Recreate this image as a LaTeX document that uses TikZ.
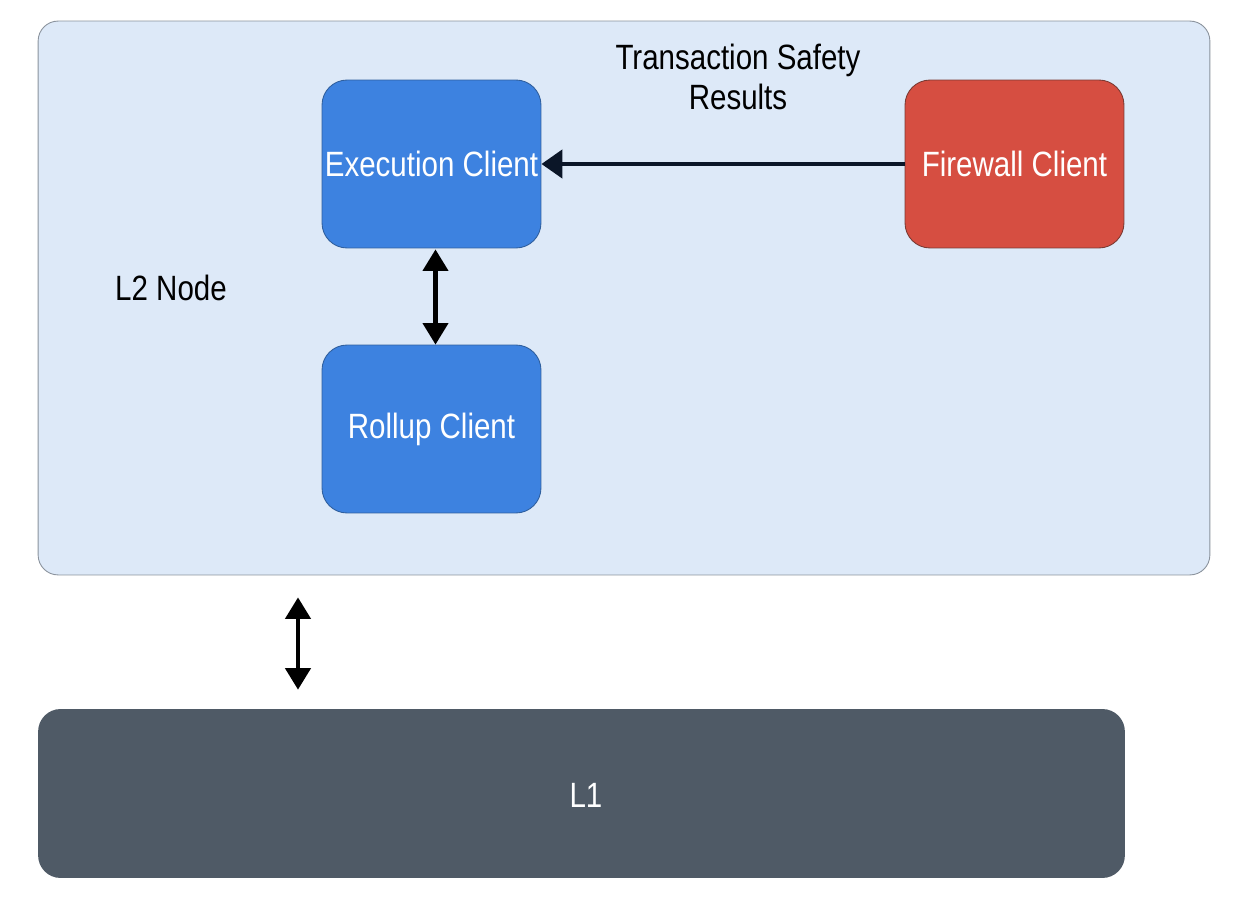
\documentclass[tikz,border=0pt]{standalone}
\usepackage{fontspec}
\setmainfont[FakeStretch=0.84]{Liberation Sans}
\usepackage{tikz}
\usetikzlibrary{arrows.meta, positioning, calc}
\definecolor{nodebg}{HTML}{DDE9F8}
\definecolor{nodeline}{HTML}{8A929C}
\definecolor{clientblue}{HTML}{3D82E0}
\definecolor{clientline}{HTML}{2F5F9E}
\definecolor{firered}{HTML}{D64E41}
\definecolor{fireline}{HTML}{7A3A33}
\definecolor{layerone}{HTML}{4F5A66}
\definecolor{navy}{HTML}{0B1628}

\begin{document}
\begin{tikzpicture}[
    x=0.02cm, y=-0.02cm,
    font=\fontsize{20}{23}\selectfont,
    l2box/.style={rectangle, draw=nodeline, fill=nodebg, rounded corners=0.4cm, line width=0.5pt, minimum width=23.44cm, minimum height=11.08cm},
    client/.style={rectangle, draw=clientline, fill=clientblue, rounded corners=0.5cm, line width=0.5pt, minimum width=4.38cm, minimum height=3.36cm, text=white, align=center, inner sep=0pt},
    l1box/.style={rectangle, fill=layerone, rounded corners=0.45cm, minimum width=21.74cm, minimum height=3.38cm, text=white},
    arrow/.style={-{Triangle[length=0.42cm, width=0.56cm]}, line width=2.6pt, navy},
    dblarrow/.style={{Triangle[length=0.43cm, width=0.5cm]}-{Triangle[length=0.43cm, width=0.5cm]}, line width=2.4pt, black}
]
    \useasboundingbox (0,0) rectangle (1242,902);

    % L2 node
    \node[l2box] (l2) at (624,298) {};
    \node (l2label) at (171,288) {L2 Node};

    % Clients
    \node[client] (exec) at (431.5,164) {Execution Client};
    \node[client] (rollup) at (431.5,429) {Rollup Client};
    \node[client, fill=firered, draw=fireline] (firewall) at (1014.5,164) {Firewall Client};

    % L1
    \node[l1box] (l1) at (581.5,793.5) {};
    \node[text=white] (l1label) at (586,795) {L1};

    % Label over the result arrow
    \node[align=center] (results) at (738,77) {Transaction Safety\\Results};

    % Arrows
    \coordinate (gap) at (298,0);
    \draw[arrow] (firewall.west) -- (exec.east);
    \draw[dblarrow] ($(exec.south)+(4,1)$) -- ($(rollup.north)+(4,0)$);
    \draw[dblarrow, shorten <=0.44cm, shorten >=0.38cm] (l2.south -| gap) -- (l1.north -| gap);
\end{tikzpicture}
\end{document}
